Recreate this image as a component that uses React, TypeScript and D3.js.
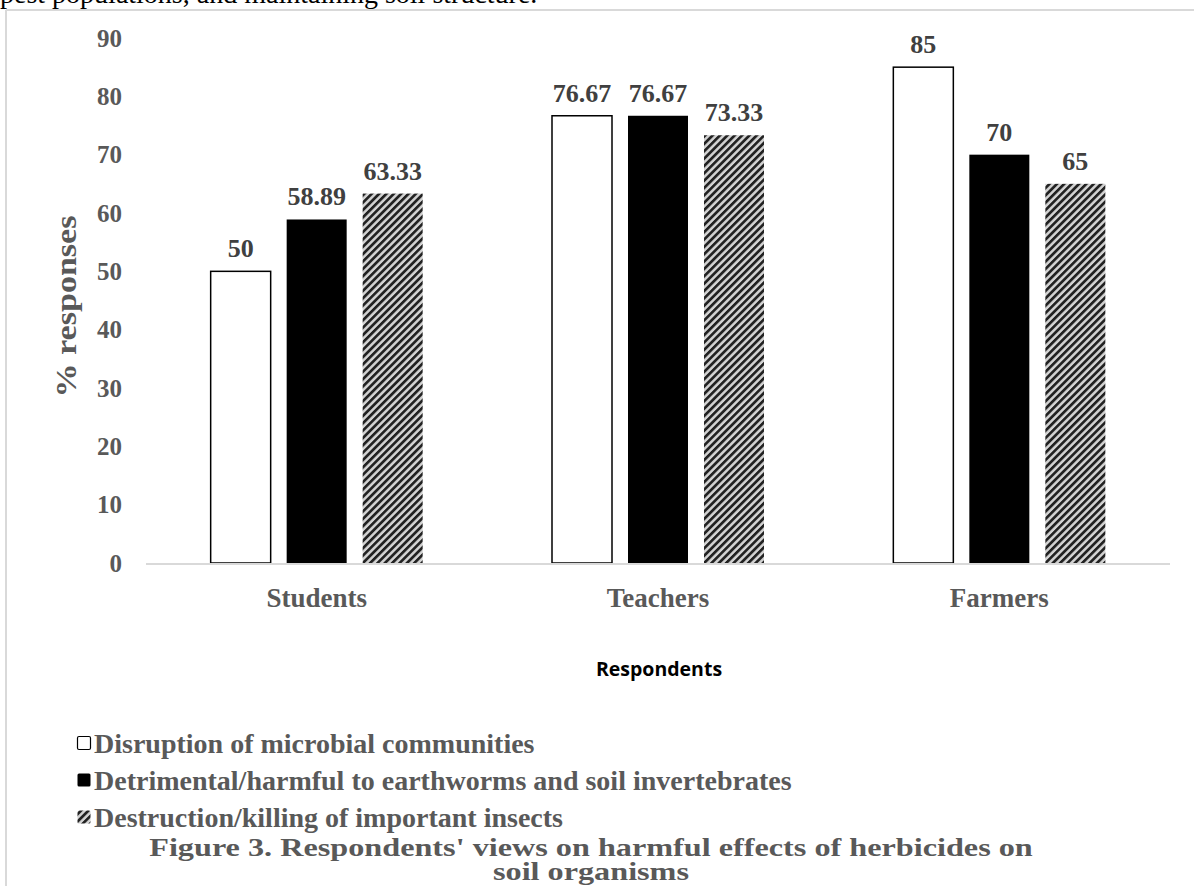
import React, { useEffect, useRef } from 'react';
import * as d3 from 'd3';

const categories = ['Students', 'Teachers', 'Farmers'];
const seriesNames = [
  'Disruption of microbial communities',
  'Detrimental/harmful to earthworms and soil invertebrates',
  'Destruction/killing of important insects',
];
const microbial = [50, 76.67, 85];
const earthworms = [58.89, 76.67, 70];
const insects = [63.33, 73.33, 65];
const valueLabels = [
  ['50', '76.67', '85'],
  ['58.89', '76.67', '70'],
  ['63.33', '73.33', '65'],
];
const yTicks = [0, 10, 20, 30, 40, 50, 60, 70, 80, 90];
const captionLines = ["Figure 3. Respondents' views on harmful effects of herbicides on", 'soil organisms'];

const W = 1194;
const H = 886;
const serif = '"Liberation Serif", "Times New Roman", serif';
const gray = '#595959';

const App: React.FC = () => {
  const svgRef = useRef<SVGSVGElement | null>(null);

  useEffect(() => {
    document.body.style.margin = '0';
    if (!svgRef.current) return;
    const svg = d3.select(svgRef.current);
    svg.selectAll('*').remove();

    const series = [microbial, earthworms, insects];

    const defs = svg.append('defs');
    const pat = defs
      .append('pattern')
      .attr('id', 'hatch')
      .attr('patternUnits', 'userSpaceOnUse')
      .attr('width', 5.2)
      .attr('height', 5.2)
      .attr('patternTransform', 'rotate(45)');
    pat.append('rect').attr('width', 5.2).attr('height', 5.2).attr('fill', '#d4d4d4');
    pat.append('rect').attr('width', 2.7).attr('height', 5.2).attr('fill', '#222');

    // cut-off page text above the figure, and the frame
    svg
      .append('text')
      .attr('x', 0)
      .attr('y', 3)
      .attr('font-family', serif)
      .attr('font-size', 28)
      .attr('fill', '#000')
      .text('pest populations, and maintaining soil structure.');
    svg.append('line').attr('x1', 6).attr('x2', W).attr('y1', 10).attr('y2', 10)
      .attr('stroke', '#d9d9d9').attr('stroke-width', 2);
    svg.append('line').attr('x1', 6).attr('x2', 6).attr('y1', 10).attr('y2', H)
      .attr('stroke', '#d9d9d9').attr('stroke-width', 2);

    const x0 = d3.scaleBand().domain(categories).range([146, 1170]).padding(0);
    const x1 = d3
      .scaleBand()
      .domain(seriesNames)
      .range([0, 212])
      .paddingInner(16 / 76)
      .paddingOuter(0);
    const y = d3.scaleLinear().domain([0, 90]).range([563, 38]);

    // y tick labels
    svg
      .append('g')
      .selectAll('text')
      .data(yTicks)
      .join('text')
      .attr('x', 122)
      .attr('y', (d) => y(d))
      .attr('dy', '0.35em')
      .attr('text-anchor', 'end')
      .attr('font-family', serif)
      .attr('font-weight', 'bold')
      .attr('font-size', 25)
      .attr('fill', gray)
      .text((d) => d);

    // y title
    svg
      .append('text')
      .attr('transform', `translate(76,${y(45) + 6}) rotate(-90)`)
      .attr('text-anchor', 'middle')
      .attr('font-family', serif)
      .attr('font-weight', 'bold')
      .attr('font-size', 29)
      .attr('textLength', 182)
      .attr('lengthAdjust', 'spacingAndGlyphs')
      .attr('fill', gray)
      .text('% responses');

    const offset = (x0.bandwidth() - 212) / 2;
    const fills = ['#ffffff', '#000000', 'url(#hatch)'];

    const groups = svg
      .append('g')
      .selectAll('g')
      .data(categories)
      .join('g')
      .attr('transform', (c) => `translate(${(x0(c) || 0) + offset},0)`);

    groups.each(function (c, ci) {
      const g = d3.select(this);
      seriesNames.forEach((s, si) => {
        const v = series[si][ci];
        g.append('rect')
          .attr('x', x1(s) || 0)
          .attr('y', y(v))
          .attr('width', x1.bandwidth())
          .attr('height', y(0) - y(v))
          .attr('fill', fills[si])
          .attr('stroke', si === 0 ? '#000' : 'none')
          .attr('stroke-width', 1.5);
        g.append('text')
          .attr('x', (x1(s) || 0) + x1.bandwidth() / 2)
          .attr('y', y(v) - 14)
          .attr('text-anchor', 'middle')
          .attr('font-family', serif)
          .attr('font-weight', 'bold')
          .attr('font-size', 26)
          .attr('fill', '#404040')
          .text(valueLabels[si][ci]);
      });
    });

    // baseline
    svg.append('line').attr('x1', 146).attr('x2', 1170).attr('y1', y(0) + 1).attr('y2', y(0) + 1)
      .attr('stroke', '#d9d9d9').attr('stroke-width', 2);

    // category labels
    svg
      .append('g')
      .selectAll('text')
      .data(categories)
      .join('text')
      .attr('x', (c) => (x0(c) || 0) + x0.bandwidth() / 2)
      .attr('y', 607)
      .attr('text-anchor', 'middle')
      .attr('font-family', serif)
      .attr('font-weight', 'bold')
      .attr('font-size', 27)
      .attr('fill', gray)
      .text((c) => c);

    svg
      .append('text')
      .attr('x', 659)
      .attr('y', 676)
      .attr('text-anchor', 'middle')
      .attr('font-family', '"Open Sans", sans-serif')
      .attr('font-weight', 'bold')
      .attr('font-size', 19.5)
      .attr('fill', '#000')
      .text('Respondents');

    // legend
    const legend = svg.append('g');
    seriesNames.forEach((s, i) => {
      const ly = 743 + i * 37;
      legend.append('rect')
        .attr('x', 77.5)
        .attr('y', ly - 6.5)
        .attr('width', 13)
        .attr('height', 13)
        .attr('rx', 1.5)
        .attr('fill', fills[i])
        .attr('stroke', i === 0 ? '#000' : 'none')
        .attr('stroke-width', 1.2);
      legend.append('text')
        .attr('x', 94)
        .attr('y', ly)
        .attr('dy', '0.35em')
        .attr('font-family', serif)
        .attr('font-weight', 'bold')
        .attr('font-size', 28)
        .attr('fill', gray)
        .text(s);
    });

    // caption, stretched horizontally like the scanned page
    captionLines.forEach((t, i) => {
      svg.append('text')
        .attr('transform', `translate(591,${856 + i * 24}) scale(1.24,1)`)
        .attr('text-anchor', 'middle')
        .attr('font-family', serif)
        .attr('font-weight', 'bold')
        .attr('font-size', 26)
        .attr('fill', gray)
        .text(t);
    });
  }, []);

  return <svg ref={svgRef} width={W} height={H} style={{ display: 'block', background: '#fff' }} />;
};

export default App;
